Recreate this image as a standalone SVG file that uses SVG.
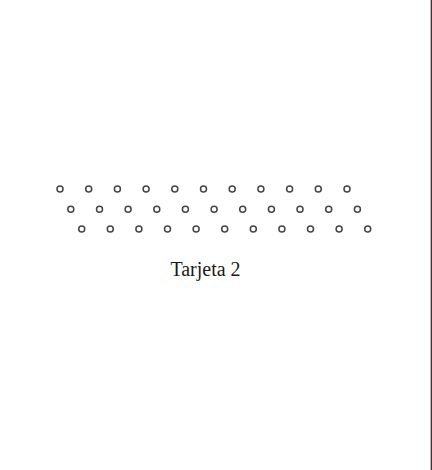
<svg xmlns="http://www.w3.org/2000/svg" width="432" height="470" viewBox="0 0 432 470">
<style>
.h{fill:none;stroke:#444;stroke-width:1.5}
.t{font-family:"Liberation Serif",serif;font-size:20px;fill:#1a1a1a;text-anchor:middle}
</style>
<rect width="432" height="470" fill="#fff"/>
<line x1="431.3" y1="0" x2="431.3" y2="470" stroke="#3a2a35" stroke-width="1.3"/>
<g id="row1">
<circle class="h" cx="60" cy="189" r="3"/><circle class="h" cx="88.7" cy="189" r="3"/><circle class="h" cx="117.4" cy="189" r="3"/><circle class="h" cx="146.1" cy="189" r="3"/><circle class="h" cx="174.8" cy="189" r="3"/><circle class="h" cx="203.5" cy="189" r="3"/><circle class="h" cx="232.2" cy="189" r="3"/><circle class="h" cx="260.9" cy="189" r="3"/><circle class="h" cx="289.6" cy="189" r="3"/><circle class="h" cx="318.3" cy="189" r="3"/><circle class="h" cx="347" cy="189" r="3"/>
</g>
<g id="row2">
<circle class="h" cx="70.8" cy="209.3" r="3"/><circle class="h" cx="99.5" cy="209.3" r="3"/><circle class="h" cx="128.1" cy="209.3" r="3"/><circle class="h" cx="156.8" cy="209.3" r="3"/><circle class="h" cx="185.4" cy="209.3" r="3"/><circle class="h" cx="214.1" cy="209.3" r="3"/><circle class="h" cx="242.7" cy="209.3" r="3"/><circle class="h" cx="271.4" cy="209.3" r="3"/><circle class="h" cx="300" cy="209.3" r="3"/><circle class="h" cx="328.7" cy="209.3" r="3"/><circle class="h" cx="357.4" cy="209.3" r="3"/>
</g>
<g id="row3">
<circle class="h" cx="81.7" cy="229" r="3"/><circle class="h" cx="110.3" cy="229" r="3"/><circle class="h" cx="138.9" cy="229" r="3"/><circle class="h" cx="167.5" cy="229" r="3"/><circle class="h" cx="196.1" cy="229" r="3"/><circle class="h" cx="224.7" cy="229" r="3"/><circle class="h" cx="253.3" cy="229" r="3"/><circle class="h" cx="281.9" cy="229" r="3"/><circle class="h" cx="310.5" cy="229" r="3"/><circle class="h" cx="339.1" cy="229" r="3"/><circle class="h" cx="367.7" cy="229" r="3"/>
</g>
<g id="label"><text class="t" x="205.5" y="276">Tarjeta 2</text></g>
</svg>
